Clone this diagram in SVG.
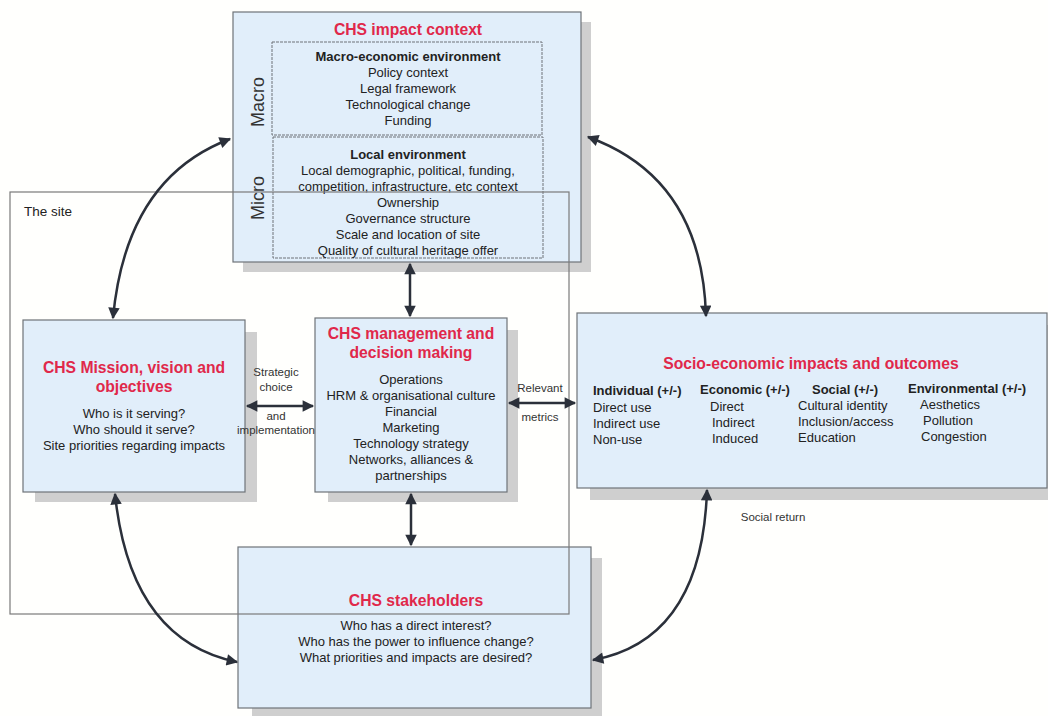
<svg xmlns="http://www.w3.org/2000/svg" width="1048" height="716" viewBox="0 0 1048 716">
<style>
.box{fill:#e1eefa;stroke:#6e7378;stroke-width:1.2}
.shadow{fill:#cfcfcf}
.inner{fill:none;stroke:#6e7378;stroke-width:1;stroke-dasharray:3 1}
.title{font-family:"Liberation Sans",Arial,sans-serif;font-weight:bold;font-size:15.7px;fill:#e0284a;text-anchor:middle}
.t{font-family:"Liberation Sans",Arial,sans-serif;font-size:13px;fill:#222;text-anchor:middle}
.tl{font-family:"Liberation Sans",Arial,sans-serif;font-size:13px;fill:#222}
.b{font-weight:bold}
.side{font-family:"Liberation Sans",Arial,sans-serif;font-size:18px;fill:#333;text-anchor:middle}
.lab{font-family:"Liberation Sans",Arial,sans-serif;font-size:11.5px;fill:#333;text-anchor:middle}
.conn{fill:none;stroke:#2b303a;stroke-width:2.5;marker-start:url(#ah);marker-end:url(#ah)}
.site{fill:none;stroke:#7a7a7a;stroke-width:1.2}
</style>
<defs>
<marker id="ah" viewBox="0 0 10 10" refX="9" refY="5" markerWidth="6" markerHeight="4.6" orient="auto-start-reverse" markerUnits="strokeWidth">
<path d="M0,0 L10,5 L0,10 z" fill="#2b303a"/>
</marker>
</defs>
<rect width="1048" height="716" fill="#fffffd"/>

<g id="impact-context">
<rect class="shadow" x="243" y="22" width="348" height="250"/>
<rect class="box" x="233" y="12" width="348" height="250"/>
<text class="title" x="408" y="35">CHS impact context</text>
<rect class="inner" x="272" y="42" width="270" height="93"/>
<rect class="inner" x="273" y="137" width="270" height="121"/>
<text class="side" transform="translate(264,102) rotate(-90)">Macro</text>
<text class="side" transform="translate(264,198) rotate(-90)">Micro</text>
<text class="t b" x="408" y="61">Macro-economic environment</text>
<text class="t" x="408" y="77">Policy context</text>
<text class="t" x="408" y="93">Legal framework</text>
<text class="t" x="408" y="109">Technological change</text>
<text class="t" x="408" y="125">Funding</text>
<text class="t b" x="408" y="159">Local environment</text>
<text class="t" x="408" y="175">Local demographic, political, funding,</text>
<text class="t" x="408" y="191">competition, infrastructure, etc context</text>
<text class="t" x="408" y="207">Ownership</text>
<text class="t" x="408" y="223">Governance structure</text>
<text class="t" x="408" y="239">Scale and location of site</text>
<text class="t" x="408" y="255">Quality of cultural heritage offer</text>
</g>

<g id="mission">
<rect class="shadow" x="35" y="332" width="222" height="170"/>
<rect class="box" x="23" y="320" width="222" height="172"/>
<text class="title" x="134" y="373">CHS Mission, vision and</text>
<text class="title" x="134" y="392">objectives</text>
<text class="t" x="134" y="418">Who is it serving?</text>
<text class="t" x="134" y="434">Who should it serve?</text>
<text class="t" x="134" y="450">Site priorities regarding impacts</text>
</g>

<g id="management">
<rect class="shadow" x="328" y="330" width="190" height="172"/>
<rect class="box" x="315" y="318" width="192" height="174"/>
<text class="title" x="411" y="339">CHS management and</text>
<text class="title" x="411" y="358">decision making</text>
<text class="t" x="411" y="384">Operations</text>
<text class="t" x="411" y="400">HRM &amp; organisational culture</text>
<text class="t" x="411" y="416">Financial</text>
<text class="t" x="411" y="432">Marketing</text>
<text class="t" x="411" y="448">Technology strategy</text>
<text class="t" x="411" y="464">Networks, alliances &amp;</text>
<text class="t" x="411" y="480">partnerships</text>
</g>

<g id="socio-economic">
<rect class="shadow" x="590" y="325" width="458" height="175"/>
<rect class="box" x="577" y="313" width="470" height="175"/>
<text class="title" x="811" y="369">Socio-economic impacts and outcomes</text>
<text class="tl b" x="593" y="395">Individual (+/-)</text>
<text class="tl" x="593" y="412">Direct use</text>
<text class="tl" x="593" y="428">Indirect use</text>
<text class="tl" x="593" y="444">Non-use</text>
<text class="tl b" x="700" y="394">Economic (+/-)</text>
<text class="tl" x="710" y="411">Direct</text>
<text class="tl" x="712" y="427">Indirect</text>
<text class="tl" x="712" y="443">Induced</text>
<text class="tl b" x="812" y="394">Social (+/-)</text>
<text class="tl" x="798" y="410">Cultural identity</text>
<text class="tl" x="798" y="426">Inclusion/access</text>
<text class="tl" x="798" y="442">Education</text>
<text class="tl b" x="908" y="393">Environmental (+/-)</text>
<text class="tl" x="920" y="409">Aesthetics</text>
<text class="tl" x="923" y="425">Pollution</text>
<text class="tl" x="921" y="441">Congestion</text>
</g>

<g id="stakeholders">
<rect class="shadow" x="252" y="558" width="350" height="158"/>
<rect class="box" x="238" y="547" width="353" height="161"/>
<text class="title" x="416" y="606">CHS stakeholders</text>
<text class="t" x="416" y="630">Who has a direct interest?</text>
<text class="t" x="416" y="646">Who has the power to influence change?</text>
<text class="t" x="416" y="662">What priorities and impacts are desired?</text>
</g>

<g id="the-site">
<rect class="site" x="10" y="192" width="559" height="422"/>
<text class="tl" x="24" y="216" style="font-size:13.5px">The site</text>
</g>

<g id="connectors">
<path class="conn" d="M113,318 Q126,178 230,139"/>
<path class="conn" d="M588,137 Q702,178 706,316"/>
<path class="conn" d="M115,494 Q130,640 237,662"/>
<path class="conn" d="M707,490 Q702,640 593,660"/>
<path class="conn" d="M410,264 L410,316"/>
<path class="conn" d="M411,494 L411,545"/>
<path class="conn" d="M247,406 L313,406"/>
<path class="conn" d="M509,403 L575,403"/>
<text class="lab" x="276" y="376">Strategic</text>
<text class="lab" x="276" y="391">choice</text>
<text class="lab" x="276" y="420">and</text>
<text class="lab" x="276" y="434">implementation</text>
<text class="lab" x="540" y="392">Relevant</text>
<text class="lab" x="540" y="421">metrics</text>
<text class="lab" x="773" y="521">Social return</text>
</g>
</svg>
